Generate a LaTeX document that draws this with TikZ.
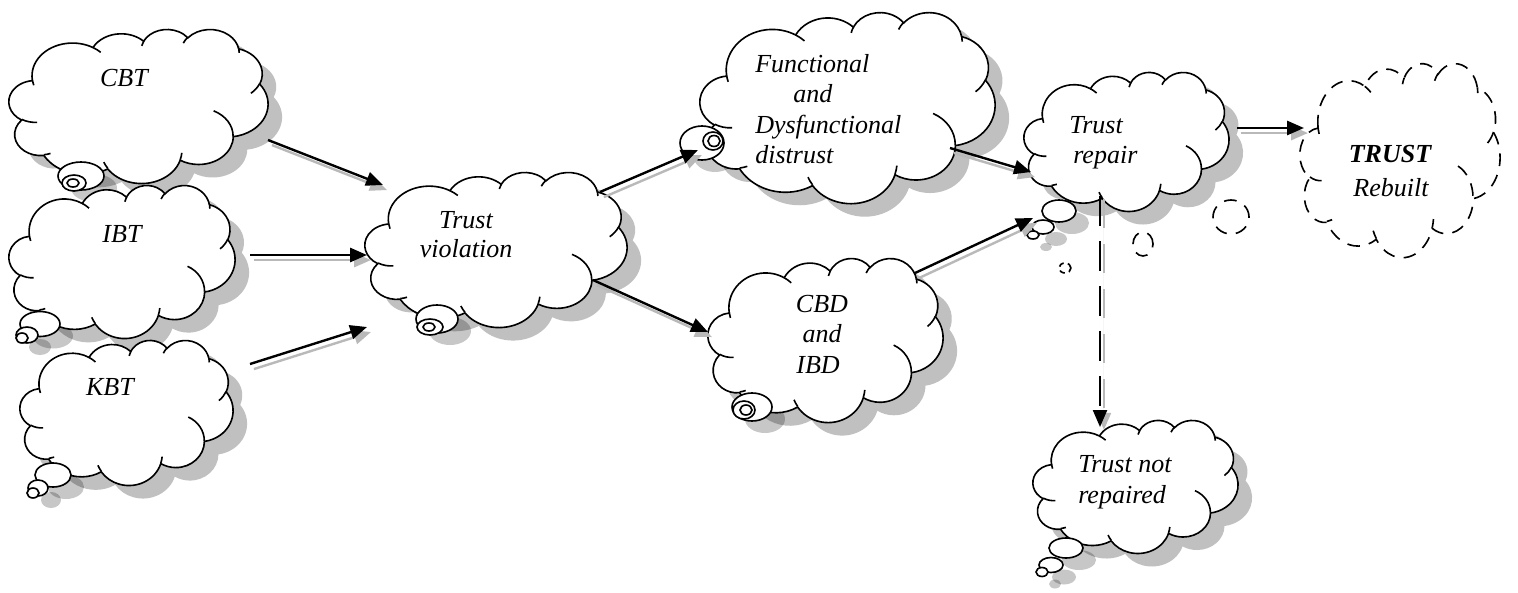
\documentclass[tikz,border=0pt]{standalone}
\usepackage{fontspec}
\setmainfont{Liberation Serif}
\usetikzlibrary{arrows.meta}

\definecolor{shcol}{RGB}{192,192,192}
\definecolor{arrsh}{RGB}{185,185,185}

% Word-style cloud: arcs with visual angles converted to parametric ones
\newcommand\mkcldarc[5]{%
  \pgfmathsetmacro\cldS{atan2((#2)*sin(#4),(#3)*cos(#4))}%
  \pgfmathsetmacro\cldE{atan2((#2)*sin((#4)+(#5)),(#3)*cos((#4)+(#5)))}%
  \pgfmathsetmacro\cldD{\cldE-\cldS}%
  \pgfmathsetmacro\cldD{\cldD-360*round((\cldD-(#5))/360)}%
  \expandafter\xdef\csname cldarc#1\endcsname{arc[start angle=\cldS, delta angle=\cldD, x radius=#2, y radius=#3]}%
}
\mkcldarc{A}{6.753}{9.190}{-190.48748}{123.78053}
\mkcldarc{B}{5.333}{7.267}{-144.10238}{89.94523}
\mkcldarc{C}{4.365}{5.945}{-145.80792}{99.72302}
\mkcldarc{D}{4.857}{6.595}{-130.98607}{117.24173}
\mkcldarc{E}{5.333}{7.273}{-78.70888}{109.02692}
\mkcldarc{F}{6.775}{9.220}{-46.26725}{130.26900}
\mkcldarc{G}{5.785}{7.867}{0.62502}{114.03333}
\mkcldarc{H}{6.752}{9.215}{22.45160}{115.17255}
\mkcldarc{I}{7.720}{10.543}{66.24263}{75.71102}
\mkcldarc{J}{4.360}{5.918}{-274.94208}{146.73557}
\mkcldarc{K}{4.345}{5.945}{-246.82850}{152.51885}
\mkcldarc{a}{4.345}{5.945}{86.74200}{26.42950}
\mkcldarc{b}{4.360}{5.918}{73.61047}{11.44747}
\mkcldarc{c}{6.752}{9.215}{137.62415}{14.08110}
\mkcldarc{d}{6.752}{9.215}{6.45327}{15.99835}
\mkcldarc{e}{5.785}{7.867}{-70.29235}{70.91737}
\mkcldarc{f}{5.333}{7.273}{30.31803}{27.75150}
\mkcldarc{g}{4.857}{6.595}{-13.74433}{14.85890}
\mkcldarc{h}{4.857}{6.595}{-149.18145}{18.19537}
\mkcldarc{i}{4.365}{5.945}{-163.49427}{17.68635}
\mkcldarc{j}{6.753}{9.190}{-66.70695}{12.31935}
\mkcldarc{k}{6.753}{9.190}{157.65435}{11.85817}

\def\cldoutline{(3.900,14.370) \cldarcA \cldarcB \cldarcC \cldarcD \cldarcE \cldarcF \cldarcG \cldarcH \cldarcI \cldarcJ \cldarcK -- cycle}
\def\cldinner{(4.693,26.177) \cldarca (6.928,34.899) \cldarcb (16.478,39.090) \cldarcc (28.827,34.751) \cldarcd (34.129,22.954) \cldarce (41.798,15.354) \cldarcf (38.324,5.426) \cldarcg (29.078,3.952) \cldarch (22.141,4.720) \cldarci (14.000,5.192) \cldarcj (4.127,15.789) \cldarck}

\tikzset{
  cld/.style n args={4}{shift={(#1,#2)},x=1cm,y=1cm,xscale={#3*0.025/43.2},yscale={-#4*0.025/43.2}},
  cloudline/.style={draw=black, line width=1.15pt, fill=white},
  dashline/.style={dash pattern=on 9pt off 6.5pt},
  lbl/.style={font=\fontsize{18.5}{22}\selectfont\itshape, inner sep=0pt},
  arr/.style={line width=1.7pt, -{Triangle[length=12pt,width=10pt]}},
  arrshadow/.style={arr, draw=arrsh, fill=arrsh, transform canvas={shift={(2.8pt,-3.6pt)}}},
  dsharr/.style={line width=1.3pt, dash pattern=on 21pt off 11pt, -{Triangle[length=12pt,width=10pt]}},
}

\newcommand\shadowcloud[4]{\begin{scope}[cld={#1+14}{#2+13}{#3}{#4}]\fill[shcol]\cldoutline;\end{scope}}
\newcommand\drawcloud[5][]{\begin{scope}[cld={#2}{#3}{#4}{#5}]\filldraw[cloudline,#1]\cldoutline;\draw[cloudline,#1]\cldinner;\end{scope}}
\newcommand\bub[5][]{\filldraw[cloudline,#1] (#2,#3) ellipse [x radius={#4*0.025cm}, y radius={#5*0.025cm}];}
\newcommand\bubsh[4]{\fill[black,opacity=0.22] (#1+13,#2+12) ellipse [x radius={#3*0.025cm}, y radius={#4*0.025cm}];}

\begin{document}
\begin{tikzpicture}[x=0.025cm,y=-0.025cm]
\fill[white] (0,0) rectangle (1518,592);
\useasboundingbox (0,0) rectangle (1518,592);

% ---- shadows ----
\shadowcloud{9}{29}{259}{154}
\shadowcloud{9}{185}{226}{153}
\shadowcloud{20}{340}{213}{145}
\shadowcloud{365}{172}{262}{155}
\shadowcloud{700}{12}{295}{191}
\shadowcloud{708}{258}{235}{164}
\shadowcloud{1024}{72}{205}{139}
\shadowcloud{1033}{420}{205}{133}
% bubble shadows
\bubsh{81}{176}{23}{14}
\bubsh{40}{324}{20}{12.5}\bubsh{27}{335}{11}{8}
\bubsh{53}{475}{18}{12}\bubsh{38}{488}{10}{8}
\bubsh{437}{319}{21}{14}
\bubsh{702}{143}{22}{17}
\bubsh{752}{407}{20}{14}
\bubsh{1059}{211}{17}{11}\bubsh{1043}{227}{11}{7}\bubsh{1033}{235}{6}{4}
\bubsh{1066}{548}{17}{10}\bubsh{1051}{565}{12}{7.5}\bubsh{1042}{572}{6}{4.5}

% ---- clouds ----
\drawcloud{9}{29}{259}{154}
\drawcloud{9}{185}{226}{153}
\drawcloud{20}{340}{213}{145}
\drawcloud{365}{172}{262}{155}
\drawcloud{700}{12}{295}{191}
\drawcloud{708}{258}{235}{164}
\drawcloud{1024}{72}{205}{139}
\drawcloud{1033}{420}{205}{133}
\drawcloud[dashline]{1300}{63}{200}{194}

% ---- thought bubbles ----
\bub{81}{176}{23}{14}\bub{74}{183}{12}{8}\bub{73}{183}{6}{4}
\bub{40}{324}{20}{12.5}\bub{27}{335}{11}{8}\bub{22}{338}{6}{5}
\bub{53}{475}{18}{12}\bub{38}{488}{10}{8}\bub{33}{493}{6}{5}
\bub{437}{319}{21}{14}\bub{430}{327}{13}{8}\bub{429}{327}{6}{4}
\bub{702}{143}{22}{17}\bub{713}{141}{10}{9}\bub{714}{141}{6}{5.5}
\bub{752}{407}{20}{14}\bub{744}{410}{11}{9}\bub{746}{410}{6}{5}
\bub{1059}{211}{17}{11}\bub{1043}{227}{11}{7}\bub{1033}{235}{6}{4}
\bub{1066}{548}{17}{10}\bub{1051}{565}{12}{7.5}\bub{1042}{572}{6}{4.5}
\bub[dashline]{1231}{217}{18}{17}\bub[dashline]{1143}{244}{10}{12}\bub[dashline,dash pattern=on 4pt off 3pt]{1065}{268}{6}{5}

% ---- texts ----
\node[lbl, anchor=base] (cbt) at (124,86) {CBT};
\node[lbl, anchor=base] (ibt) at (122,242) {IBT};
\node[lbl, anchor=base] (kbt) at (110,395) {KBT};
\node[lbl, anchor=base] (tv1) at (466,228) {Trust};
\node[lbl, anchor=base] (tv2) at (466,257) {violation};
\node[lbl, anchor=base west] (fd1) at (755,72) {Functional};
\node[lbl, anchor=base west] (fd2) at (793,102) {and};
\node[lbl, anchor=base west] (fd3) at (755,133) {Dysfunctional};
\node[lbl, anchor=base west] (fd4) at (755,163) {distrust};
\node[lbl, anchor=base] (cbd1) at (822,312) {CBD};
\node[lbl, anchor=base] (cbd2) at (822,342) {and};
\node[lbl, anchor=base] (cbd3) at (818,373) {IBD};
\node[lbl, anchor=base west] (tr1) at (1069,133) {Trust};
\node[lbl, anchor=base west] (tr2) at (1073,163) {repair};
\node[lbl, anchor=base, font=\fontsize{18.5}{22}\selectfont\bfseries\itshape] (tb1) at (1390,162) {TRUST};
\node[lbl, anchor=base] (tb2) at (1391,196) {Rebuilt};
\node[lbl, anchor=base west] (tn1) at (1078,472) {Trust not};
\node[lbl, anchor=base west] (tn2) at (1078,503) {repaired};

% ---- connector end points ----
\coordinate (cbt-out) at (268,140);  \coordinate (tv-in1) at (383,185);
\coordinate (ibt-out) at (250,255);  \coordinate (tv-in2) at (367,255);
\coordinate (kbt-out) at (250,364);  \coordinate (tv-in3) at (367,327);
\coordinate (tv-out1) at (600,192);  \coordinate (fd-in) at (698,150);
\coordinate (tv-out2) at (593,280);  \coordinate (cbd-in) at (708,332);
\coordinate (fd-out) at (950,148);   \coordinate (tr-in1) at (1031,172);
\coordinate (cbd-out) at (915,273);  \coordinate (tr-in2) at (1033,218);
\coordinate (tr-out) at (1237,128);  \coordinate (tb-in) at (1304,128);
\coordinate (tr-down) at (1100,196); \coordinate (tn-in) at (1100,427);

% ---- arrow shadows ----
\foreach \s/\e in {cbt-out/tv-in1, ibt-out/tv-in2, kbt-out/tv-in3, tv-out1/fd-in, tv-out2/cbd-in, fd-out/tr-in1, cbd-out/tr-in2, tr-out/tb-in}
  \draw[arrshadow] (\s) -- (\e);
\draw[dsharr, draw=arrsh, fill=arrsh, transform canvas={shift={(2.8pt,-2pt)}}] (tr-down) -- (tn-in);

% ---- arrows ----
\foreach \s/\e in {cbt-out/tv-in1, ibt-out/tv-in2, kbt-out/tv-in3, tv-out1/fd-in, tv-out2/cbd-in, fd-out/tr-in1, cbd-out/tr-in2, tr-out/tb-in}
  \draw[arr] (\s) -- (\e);
\draw[dsharr] (tr-down) -- (tn-in);
\end{tikzpicture}
\end{document}
